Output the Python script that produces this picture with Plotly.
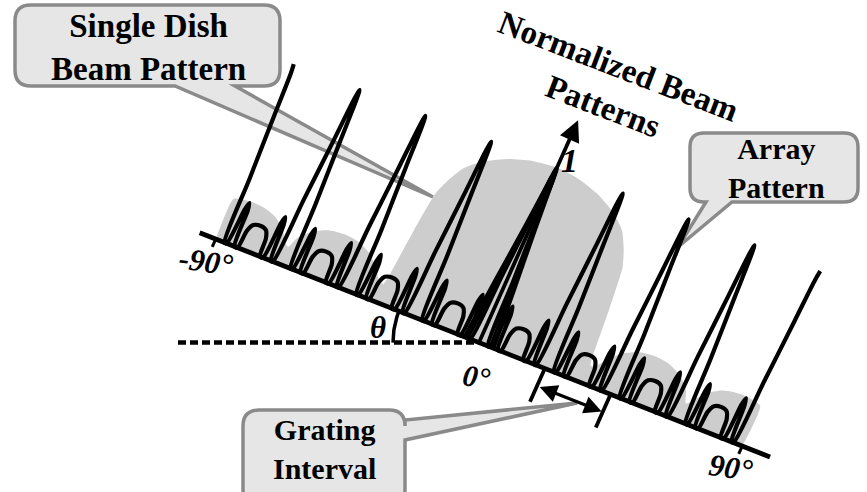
import numpy as np
import plotly.graph_objects as go

# ---------------- data: angle (deg) vs normalized amplitude ----------------
grating_lobe_deg = [-90.0, -67.5, -45.0, -22.5, 0.0, 22.5, 45.0, 67.5, 90.0]
grating_lobe_peak = [1.0, 1.0, 1.0, 1.0, 1.0, 1.0, 1.0, 1.0, 1.0]

# half of one grating period of the array pattern, measured from a lobe centre
period_offset_deg = [0.0, 0.35, 1.0, 2.0, 3.0, 3.7, 4.6, 5.1, 5.6, 6.4, 7.4, 8.0, 9.1, 11.25]
period_amp = [1.0, 0.95, 0.71, 0.36, 0.0, 0.0, 0.2, 0.24, 0.2, 0.0, 0.0, 0.1, 0.14, 0.15]
LOBE_POINTS = 4  # first points of the profile belong to the grating lobe itself

# broader overlays on the central lobe
central_offset_deg = [-3.9, -2.6, -1.3, -0.4, 0.0, 0.4, 1.3, 2.6, 3.9]
central_amp = [0.0, 0.33, 0.66, 0.93, 1.0, 0.93, 0.66, 0.33, 0.0]
central_offset2_deg = [-5.0, -3.4, -1.7, -0.5, 0.0, 0.5, 1.7, 3.4, 5.0]

# single dish beam pattern (envelope)
dish_deg = [-90, -90, -87, -84, -80, -76, -72, -69.5, -68, -66.5, -63, -58, -53, -48, -43,
            -39.5, -37, -35.5, -35, -33.5, -32, -30, -27, -22, -15, -8, 0,
            8, 15, 22, 27, 30, 32, 33.5, 35, 35.5, 37, 39.5, 43, 48, 53, 58, 63,
            66.5, 68, 69.5, 72, 76, 80, 84, 87, 90, 90]
dish_amp = [0.0, 0.23, 0.245, 0.25, 0.245, 0.225, 0.18, 0.12, 0.1, 0.16, 0.22, 0.26, 0.27, 0.26, 0.22,
            0.16, 0.11, 0.1, 0.13, 0.42, 0.64, 0.73, 0.82, 0.89, 0.95, 0.985, 1.0,
            0.985, 0.95, 0.89, 0.82, 0.73, 0.64, 0.42, 0.13, 0.1, 0.11, 0.16, 0.22, 0.26, 0.27, 0.26, 0.22,
            0.16, 0.1, 0.12, 0.18, 0.225, 0.245, 0.25, 0.245, 0.23, 0.0]

grating_interval_deg = [22.5, 45.0]
axis_tick_deg = [-90.0, 90.0]
axis_extent_deg = [-95.5, 99.5]

# ---------------- tilted drawing frame (pixels) ----------------
ORIGIN = np.array([479.0, 342.6])
ALONG = np.array([2.925, 1.150])   # per degree along the angle axis
UP = np.array([78.0, -175.0])      # per unit of normalized amplitude


def frame(d, a):
    d = np.asarray(d, dtype=float)
    a = np.asarray(a, dtype=float)
    x = ORIGIN[0] + d * ALONG[0] + a * UP[0]
    y = ORIGIN[1] + d * ALONG[1] + a * UP[1]
    return x, y


# assemble the array pattern from the per-period profile
arr_d, arr_a = [], []
for c, pk in zip(grating_lobe_deg, grating_lobe_peak):
    amps = [v * pk if i < LOBE_POINTS else v for i, v in enumerate(period_amp)]
    left = [(c - o, v) for o, v in zip(period_offset_deg[::-1], amps[::-1])]
    right = [(c + o, v) for o, v in zip(period_offset_deg[1:], amps[1:])]
    for d, a in left + right:
        if -90.0 <= d <= 90.0 and (not arr_d or d > arr_d[-1] + 1e-9):
            arr_d.append(d)
            arr_a.append(a)

LINE_W = 4.2
fig = go.Figure()

# single dish envelope (grey fill)
dx, dy = frame(dish_deg, dish_amp)
fig.add_trace(go.Scatter(x=dx, y=dy, mode="lines", fill="toself", fillcolor="#cdcdcd",
                         line=dict(width=0, shape="spline", smoothing=0.6), hoverinfo="skip"))

# array pattern
ax_, ay_ = frame(arr_d, arr_a)
fig.add_trace(go.Scatter(x=ax_, y=ay_, mode="lines",
                         line=dict(color="black", width=LINE_W, shape="spline", smoothing=0.8),
                         hoverinfo="skip"))
for offs in (central_offset_deg, central_offset2_deg):
    cx, cy = frame(offs, central_amp)
    fig.add_trace(go.Scatter(x=cx, y=cy, mode="lines",
                             line=dict(color="black", width=LINE_W - 0.6, shape="spline", smoothing=0.5),
                             hoverinfo="skip"))

# angle axis
bx, by = frame(axis_extent_deg, [0, 0])
fig.add_trace(go.Scatter(x=bx, y=by, mode="lines", line=dict(color="black", width=4.8),
                         hoverinfo="skip"))
for t in axis_tick_deg:
    tx, ty = frame([t, t], [0, -0.045])
    fig.add_trace(go.Scatter(x=tx, y=ty, mode="lines", line=dict(color="black", width=3),
                             hoverinfo="skip"))

# grating interval extension lines
for t in grating_interval_deg:
    tx, ty = frame([t, t], [0, -0.19])
    fig.add_trace(go.Scatter(x=tx, y=ty, mode="lines", line=dict(color="black", width=3.8),
                             hoverinfo="skip"))

# horizontal reference (dashed) and theta arc
fig.add_trace(go.Scatter(x=[178, ORIGIN[0]], y=[ORIGIN[1], ORIGIN[1]], mode="lines",
                         line=dict(color="black", width=4.5, dash="8px,4px"), hoverinfo="skip"))
tilt = np.arctan2(ALONG[1], ALONG[0])
arc_t = np.linspace(0, tilt, 20)
R = 86
fig.add_trace(go.Scatter(x=ORIGIN[0] - R * np.cos(arc_t), y=ORIGIN[1] - R * np.sin(arc_t),
                         mode="lines", line=dict(color="black", width=3.5), hoverinfo="skip"))

annotations = []

# amplitude axis arrow
(bx0, tx0), (by0, ty0) = frame([0, 0], [0, 1.27])
annotations.append(dict(x=tx0, y=ty0, ax=bx0, ay=by0, xref="x", yref="y", axref="x", ayref="y",
                        text="", showarrow=True, arrowhead=2, arrowsize=1.1, arrowwidth=3.8,
                        arrowcolor="black"))

# grating interval double arrow
(gx0, gx1), (gy0, gy1) = frame([grating_interval_deg[0] + 0.4, grating_interval_deg[1] - 0.4], [-0.1, -0.1])
annotations.append(dict(x=gx1, y=gy1, ax=gx0, ay=gy0, xref="x", yref="y", axref="x", ayref="y",
                        text="", showarrow=True, arrowhead=2, startarrowhead=2, arrowside="end+start",
                        arrowsize=1.1, startarrowsize=1.1, arrowwidth=3.2, arrowcolor="black"))

SERIF = "Liberation Serif, Times New Roman, serif"


def label(x, y, text, size, angle=0, style="bold"):
    if style == "bolditalic":
        text = f"<b><i>{text}</i></b>"
    elif style == "italic":
        text = f"<i>{text}</i>"
    else:
        text = f"<b>{text}</b>"
    annotations.append(dict(x=x, y=y, xref="x", yref="y", text=text, showarrow=False,
                            textangle=angle, xanchor="center", yanchor="middle",
                            font=dict(family=SERIF, size=size, color="black")))


label(206, 261, "-90°", 31, 8, "bolditalic")
label(476, 376, "0°", 30, 8, "bolditalic")
label(731, 467, "90°", 31, 8, "bolditalic")
label(569, 160, "1", 34, 0, "bolditalic")
label(378, 327, "θ", 31, 0, "bolditalic")
label(611, 86, "Normalized Beam<br>Patterns", 33, 21)

label(148, 47, "Single Dish<br>Beam Pattern", 33)
label(776, 168, "Array<br>Pattern", 30)
label(324, 449, "Grating<br>Interval", 30)


def bubble(x0, y0, x1, y1, r, side, p0, p1, tip):
    tx, ty = tip
    p = f"M{x0 + r},{y0} L{x1 - r},{y0} Q{x1},{y0} {x1},{y0 + r} "
    if side == "right":
        p += f"L{x1},{p0} L{tx},{ty} L{x1},{p1} "
    p += f"L{x1},{y1 - r} Q{x1},{y1} {x1 - r},{y1} "
    if side == "bottom":
        p += f"L{p1},{y1} L{tx},{ty} L{p0},{y1} "
    p += f"L{x0 + r},{y1} Q{x0},{y1} {x0},{y1 - r} L{x0},{y0 + r} Q{x0},{y0} {x0 + r},{y0} Z"
    return dict(type="path", path=p, xref="x", yref="y", fillcolor="#e6e6e6",
                line=dict(color="#8a8a8a", width=3.5), layer="below")


shapes = [
    bubble(15, 5, 280, 86, 16, "bottom", 175, 235, (433, 197)),
    bubble(690, 133, 858, 202, 14, "bottom", 706, 732, (678, 247)),
    bubble(243, 410, 405, 505, 16, "right", 420, 440, (577, 403)),
]

fig.update_layout(
    width=867, height=492, margin=dict(l=0, r=0, t=0, b=0),
    paper_bgcolor="white", plot_bgcolor="white", showlegend=False,
    xaxis=dict(range=[0, 867], visible=False, fixedrange=True),
    yaxis=dict(range=[492, 0], visible=False, fixedrange=True),
    annotations=annotations, shapes=shapes,
)

fig.write_html("out.html")
